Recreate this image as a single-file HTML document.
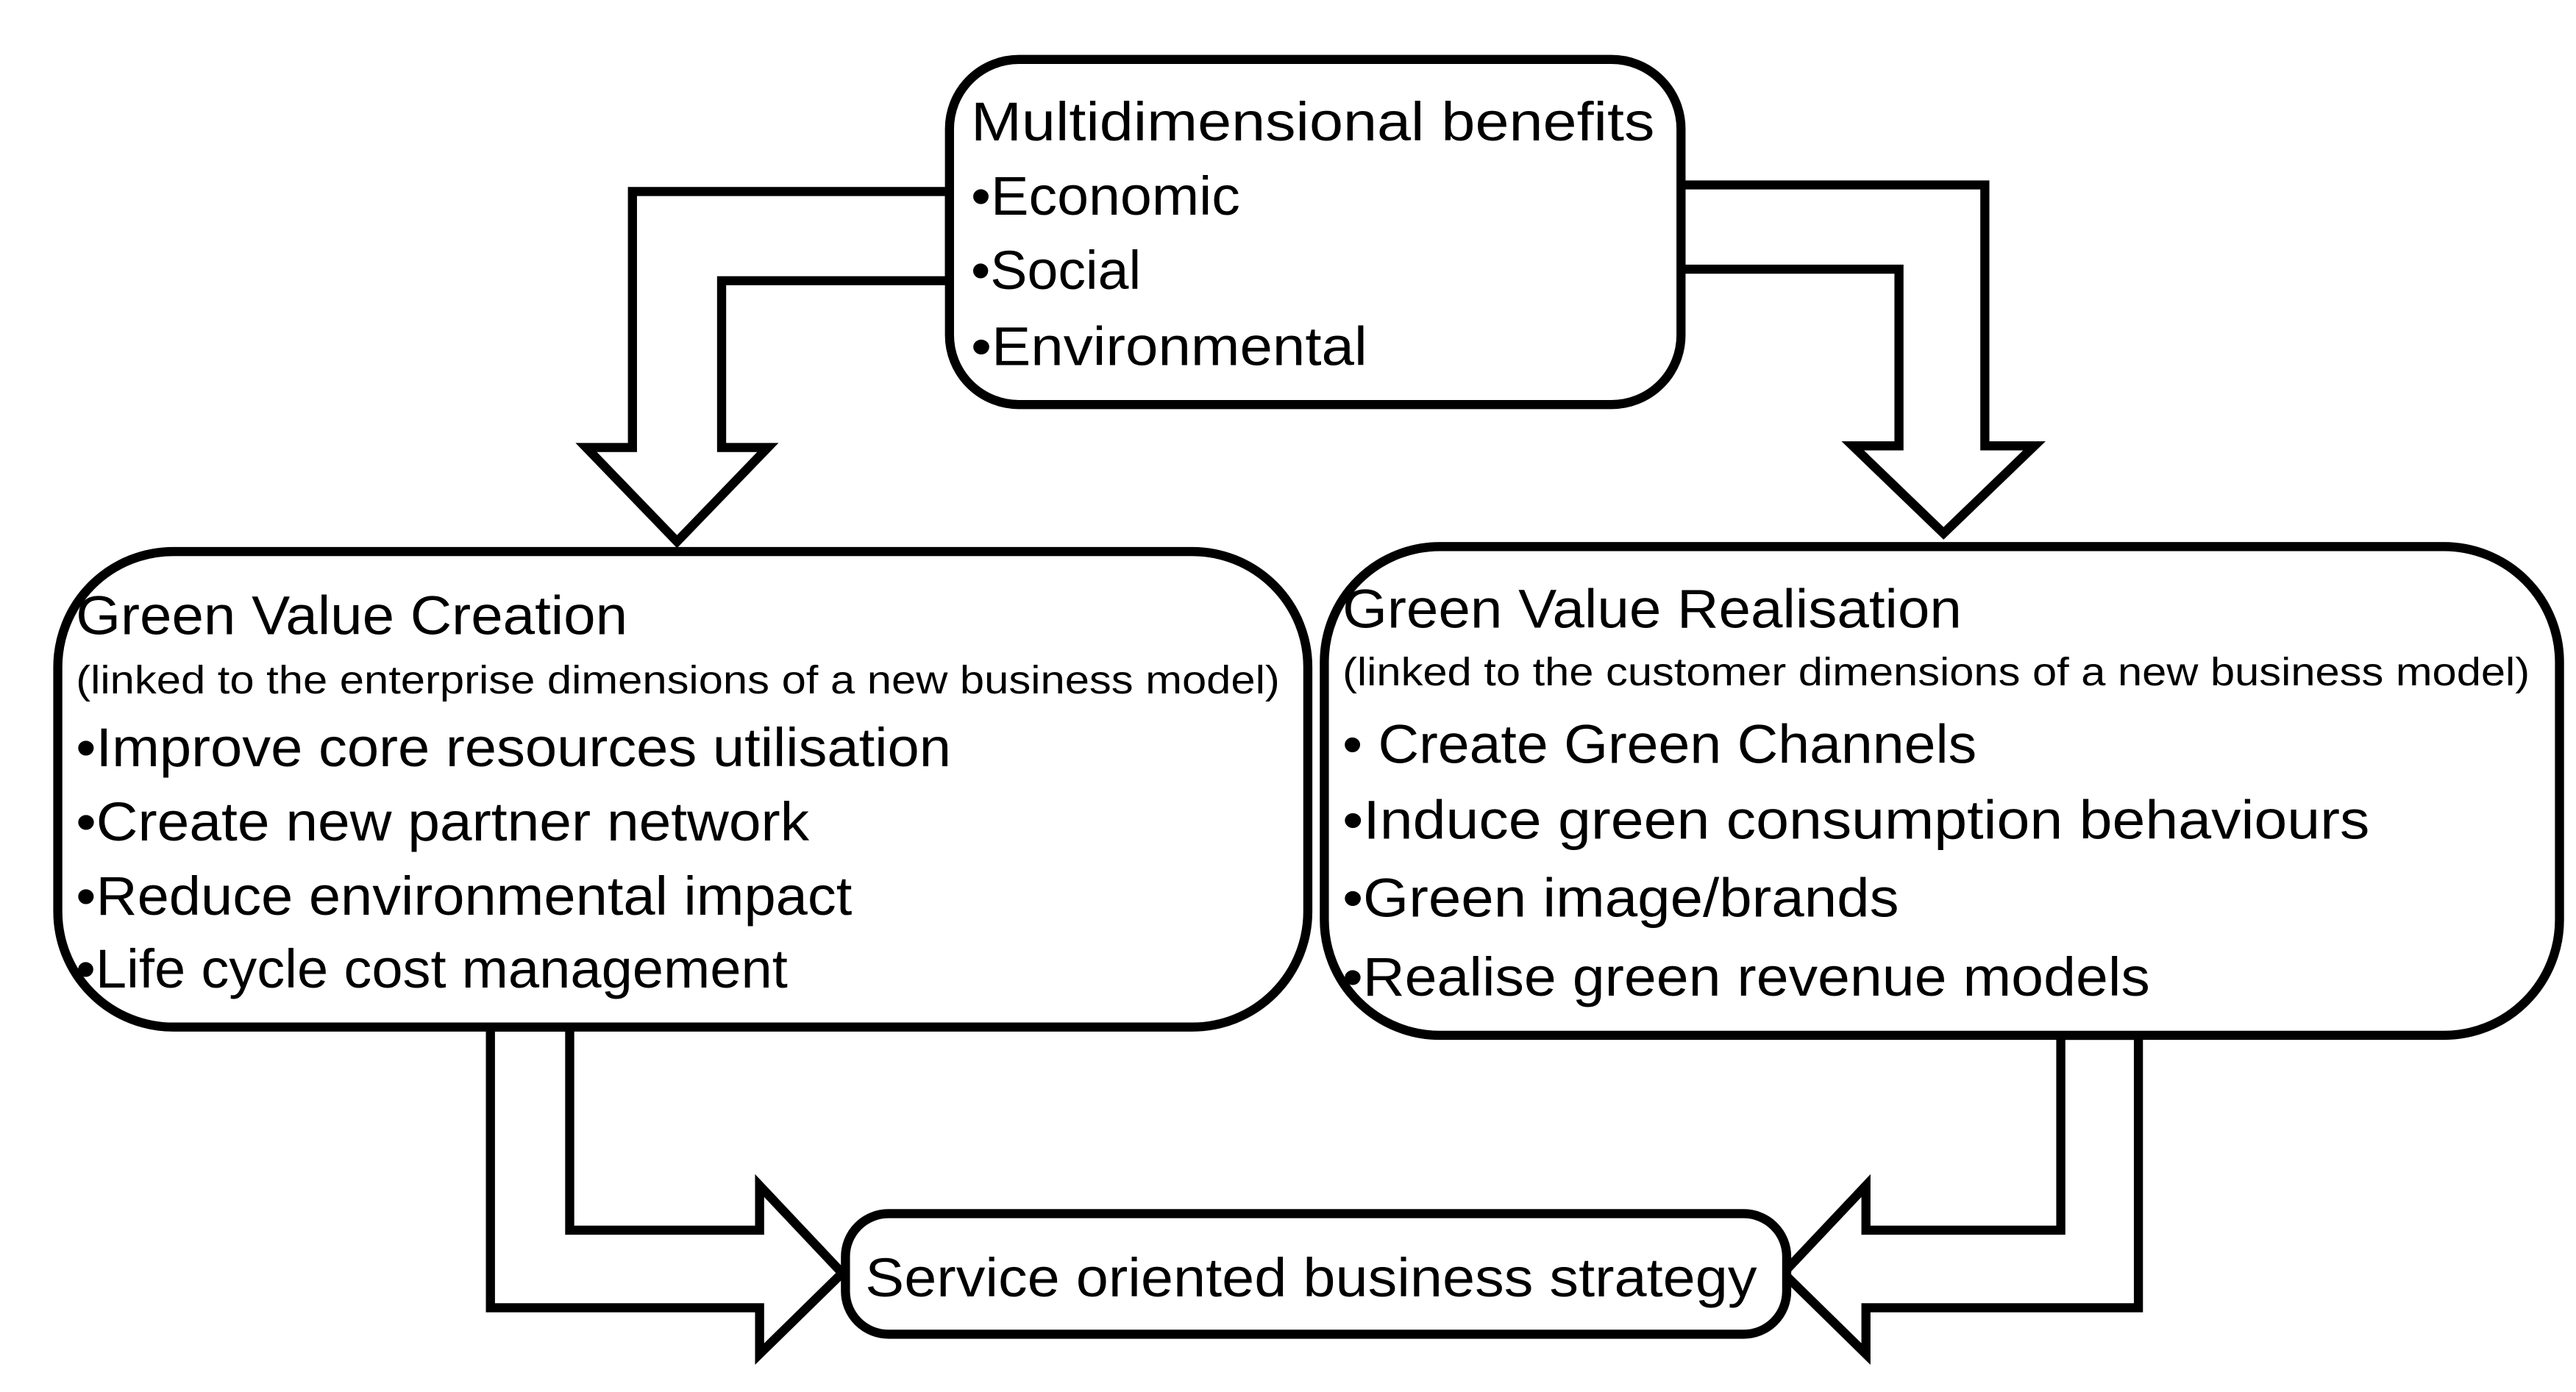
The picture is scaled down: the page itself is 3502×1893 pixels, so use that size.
<!DOCTYPE html>
<html><head><meta charset="utf-8"><style>
html,body{margin:0;padding:0;background:#fff;}
svg{display:block;}
text{font-family:"Liberation Sans",sans-serif;fill:#000;}
</style></head><body>
<svg width="3502" height="1893" viewBox="0 0 1560 843" preserveAspectRatio="none" xmlns="http://www.w3.org/2000/svg">
<g fill="#fff" stroke="#000" stroke-width="5.5" stroke-linejoin="miter">
<!-- top-left arrow -->
<polygon points="575,116 383,116 383,271 355,271 410,328 465,271 437,271 437,170 575,170"/>
<!-- top-right arrow -->
<polygon points="1018,112 1202,112 1202,270 1232,270 1177,323 1122,270 1150,270 1150,163 1018,163"/>
<!-- bottom-left arrow -->
<polygon points="297,622 297,792 460,792 460,820 510,771 460,718 460,745 345,745 345,622"/>
<!-- bottom-right arrow -->
<polygon points="1295,627 1295,792 1130,792 1130,820 1080,771 1130,718 1130,745 1248,745 1248,627"/>
<!-- boxes -->
<rect x="575" y="36" width="443" height="209" rx="42" ry="42"/>
<rect x="35" y="334" width="757" height="288" rx="70" ry="70"/>
<rect x="802" y="331" width="748" height="296" rx="70" ry="70"/>
<rect x="512" y="735" width="570" height="73" rx="26" ry="26"/>
</g>
<g font-size="33">
<text x="588" y="85" textLength="414" lengthAdjust="spacingAndGlyphs">Multidimensional benefits</text>
<text x="588" y="130" textLength="163" lengthAdjust="spacingAndGlyphs">•Economic</text>
<text x="588" y="175" textLength="103" lengthAdjust="spacingAndGlyphs">•Social</text>
<text x="588" y="221" textLength="240" lengthAdjust="spacingAndGlyphs">•Environmental</text>

<text x="46" y="384" textLength="334" lengthAdjust="spacingAndGlyphs">Green Value Creation</text>
<text x="46" y="420" font-size="24" textLength="729" lengthAdjust="spacingAndGlyphs">(linked to the enterprise dimensions of a new business model)</text>
<text x="46" y="464" textLength="530" lengthAdjust="spacingAndGlyphs">•Improve core resources utilisation</text>
<text x="46" y="509" textLength="444" lengthAdjust="spacingAndGlyphs">•Create new partner network</text>
<text x="46" y="554" textLength="470" lengthAdjust="spacingAndGlyphs">•Reduce environmental impact</text>
<text x="46" y="598" textLength="431" lengthAdjust="spacingAndGlyphs">•Life cycle cost management</text>

<text x="813" y="380" textLength="375" lengthAdjust="spacingAndGlyphs">Green Value Realisation</text>
<text x="813" y="415" font-size="24" textLength="719" lengthAdjust="spacingAndGlyphs">(linked to the customer dimensions of a new business model)</text>
<text x="813" y="462" textLength="384" lengthAdjust="spacingAndGlyphs">• Create Green Channels</text>
<text x="813" y="508" textLength="622" lengthAdjust="spacingAndGlyphs">•Induce green consumption behaviours</text>
<text x="813" y="555" textLength="337" lengthAdjust="spacingAndGlyphs">•Green image/brands</text>
<text x="813" y="603" textLength="489" lengthAdjust="spacingAndGlyphs">•Realise green revenue models</text>

<text x="524" y="785" textLength="540" lengthAdjust="spacingAndGlyphs">Service oriented business strategy</text>
</g>
</svg>
</body></html>
